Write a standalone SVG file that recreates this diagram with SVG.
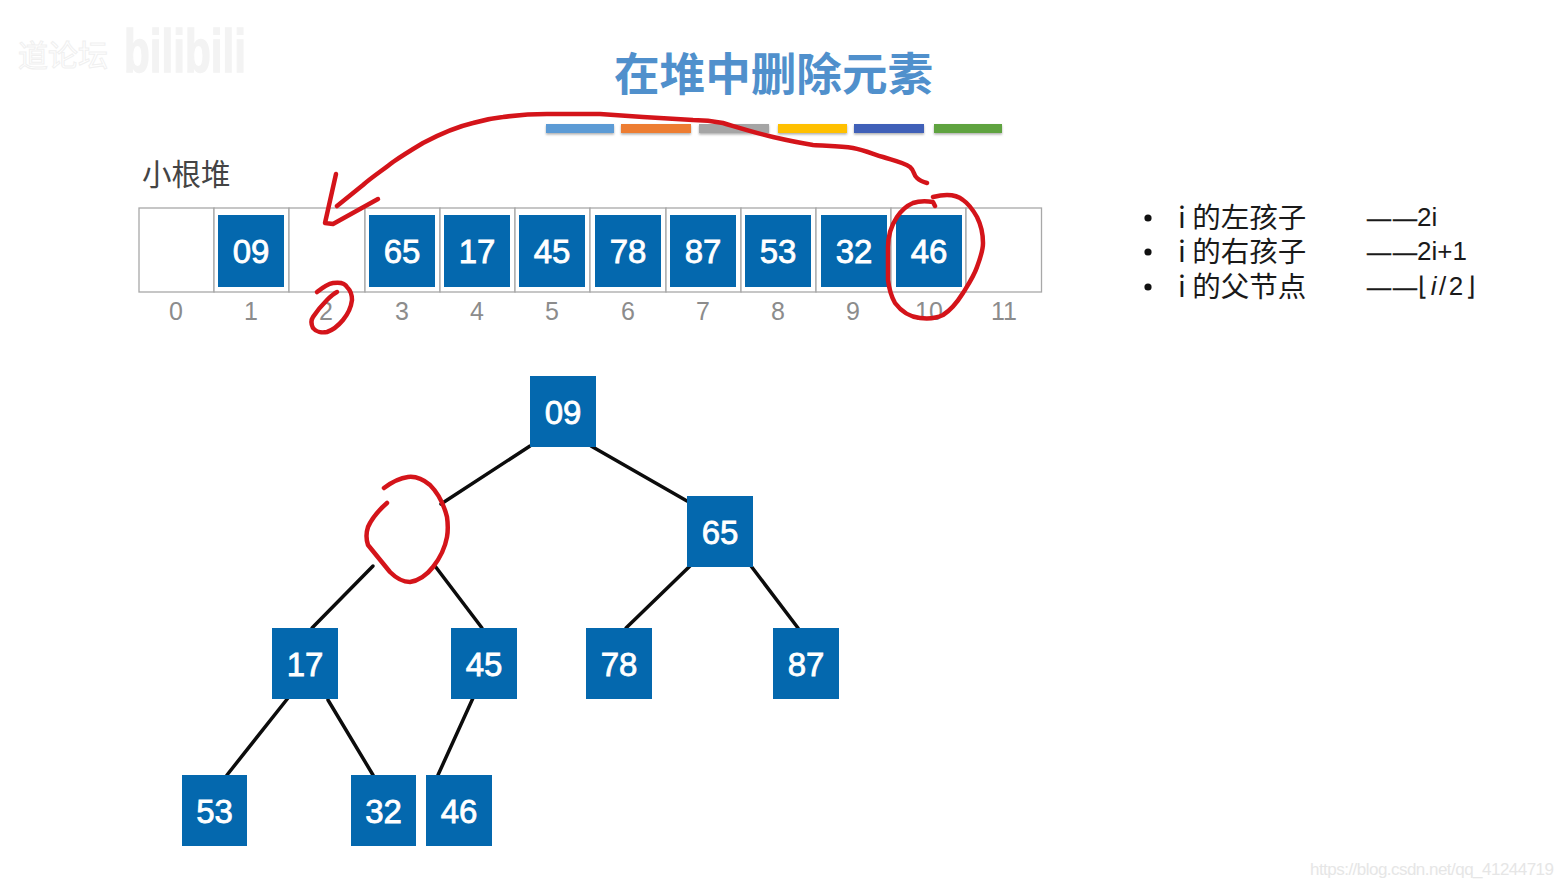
<svg xmlns="http://www.w3.org/2000/svg" width="1563" height="887" viewBox="0 0 1563 887">
<style>
.cell{fill:#fff;stroke:#a8a8a8;stroke-width:1.3}
.box{fill:#0468ae}
.num{font:33px "Liberation Sans",Arial,sans-serif;fill:#fff;stroke:#fff;stroke-width:.8;text-anchor:middle}
.idx{font:25px "Liberation Sans",Arial,sans-serif;fill:#8c8c8c;text-anchor:middle}
.edge{stroke:#0c0c0c;stroke-width:3.5;fill:none;stroke-linecap:round}
.ink{stroke:#d4141a;stroke-width:4.5;fill:none;stroke-linecap:round;stroke-linejoin:round}
.bar{filter:url(#sh)}
.li{font:28.500px "Noto Sans CJK SC","Liberation Sans",sans-serif;fill:#1a1a1a}
.fx{font:26px "Liberation Sans","DejaVu Sans",sans-serif;fill:#1a1a1a}
.dash{font-size:24px;letter-spacing:2px;stroke:#1a1a1a;stroke-width:.5}
</style>
<defs>
<filter id="sh" x="-5%" y="-30%" width="110%" height="170%"><feDropShadow dx="0" dy="1.5" stdDeviation="1" flood-color="#777" flood-opacity=".6"/></filter>
</defs>
<rect width="1563" height="887" fill="#fff"/>
<g id="watermark">
<text x="124" y="72" font-family="Liberation Sans,sans-serif" font-weight="700" font-size="62" fill="#f3f3f3" stroke="#f3f3f3" stroke-width="1.500" textLength="122" lengthAdjust="spacingAndGlyphs">bilibili</text>
<text x="18" y="66" font-family="Noto Sans CJK SC,sans-serif" font-size="30" fill="#fff" stroke="#f0f0f0" stroke-width="1">道论坛</text>
<text x="1310" y="875" font-family="Liberation Sans,sans-serif" font-size="17" fill="#e6e6e6" textLength="244">https://blog.csdn.net/qq_41244719</text>
</g>
<text id="title" x="614" y="91" font-family="Noto Sans CJK SC,sans-serif" font-weight="700" font-size="45.600" fill="#5090cc">在堆中删除元素</text>
<g id="bars">
<rect class="bar" x="546" y="124" width="68" height="9" fill="#5b9bd5"/>
<rect class="bar" x="621" y="124" width="70" height="9" fill="#ed7d31"/>
<rect class="bar" x="699" y="124" width="70" height="9" fill="#a5a5a5"/>
<rect class="bar" x="778" y="124" width="69" height="9" fill="#ffc000"/>
<rect class="bar" x="854" y="124" width="70" height="9" fill="#4060b8"/>
<rect class="bar" x="934" y="124" width="68" height="9" fill="#5fa33f"/>
</g>
<text id="heap-label" x="142" y="185" font-family="Noto Sans CJK SC,sans-serif" font-size="29.500" fill="#444">小根堆</text>
<g id="array">
<rect class="cell" x="139" y="208" width="75" height="84"/>
<rect class="cell" x="214" y="208" width="75" height="84"/>
<rect class="cell" x="289" y="208" width="76" height="84"/>
<rect class="cell" x="365" y="208" width="75" height="84"/>
<rect class="cell" x="440" y="208" width="75" height="84"/>
<rect class="cell" x="515" y="208" width="75" height="84"/>
<rect class="cell" x="590" y="208" width="76" height="84"/>
<rect class="cell" x="666" y="208" width="75" height="84"/>
<rect class="cell" x="741" y="208" width="75" height="84"/>
<rect class="cell" x="816" y="208" width="75" height="84"/>
<rect class="cell" x="891" y="208" width="75" height="84"/>
<rect class="cell" x="966" y="208" width="75.500" height="84"/>
</g>
<g id="array-values">
<g id="a1"><rect class="box" x="218" y="215" width="66" height="72"/><text class="num" x="251" y="263">09</text></g>
<g id="a3"><rect class="box" x="369" y="215" width="66" height="72"/><text class="num" x="402" y="263">65</text></g>
<g id="a4"><rect class="box" x="444" y="215" width="66" height="72"/><text class="num" x="477" y="263">17</text></g>
<g id="a5"><rect class="box" x="519" y="215" width="66" height="72"/><text class="num" x="552" y="263">45</text></g>
<g id="a6"><rect class="box" x="595" y="215" width="66" height="72"/><text class="num" x="628" y="263">78</text></g>
<g id="a7"><rect class="box" x="670" y="215" width="66" height="72"/><text class="num" x="703" y="263">87</text></g>
<g id="a8"><rect class="box" x="745" y="215" width="66" height="72"/><text class="num" x="778" y="263">53</text></g>
<g id="a9"><rect class="box" x="821" y="215" width="66" height="72"/><text class="num" x="854" y="263">32</text></g>
<g id="a10"><rect class="box" x="896" y="215" width="66" height="72"/><text class="num" x="929" y="263">46</text></g>
</g>
<g id="indices">
<text class="idx" x="176" y="320">0</text><text class="idx" x="251" y="320">1</text><text class="idx" x="326" y="320">2</text><text class="idx" x="402" y="320">3</text><text class="idx" x="477" y="320">4</text><text class="idx" x="552" y="320">5</text><text class="idx" x="628" y="320">6</text><text class="idx" x="703" y="320">7</text><text class="idx" x="778" y="320">8</text><text class="idx" x="853" y="320">9</text><text class="idx" x="929" y="320">10</text><text class="idx" x="1004" y="320">11</text>
</g>
<g id="connectors">
<path class="edge" d="M530 446L441 504"/>
<path class="edge" d="M591 446L687 501"/>
<path class="edge" d="M373 566L312 628"/>
<path class="edge" d="M435 566L482 628"/>
<path class="edge" d="M690 566L626 628"/>
<path class="edge" d="M751 566L798 628"/>
<path class="edge" d="M288 698L227 775"/>
<path class="edge" d="M328 700L373 775"/>
<path class="edge" d="M473 698L438 775"/>
</g>
<g id="n09"><rect class="box" x="530" y="376" width="66" height="71"/><text class="num" x="563" y="424">09</text></g>
<g id="n65"><rect class="box" x="687" y="496" width="66" height="71"/><text class="num" x="720" y="544">65</text></g>
<g id="n17"><rect class="box" x="272" y="628" width="66" height="71"/><text class="num" x="305" y="676">17</text></g>
<g id="n45"><rect class="box" x="451" y="628" width="66" height="71"/><text class="num" x="484" y="676">45</text></g>
<g id="n78"><rect class="box" x="586" y="628" width="66" height="71"/><text class="num" x="619" y="676">78</text></g>
<g id="n87"><rect class="box" x="773" y="628" width="66" height="71"/><text class="num" x="806" y="676">87</text></g>
<g id="n53"><rect class="box" x="182" y="775" width="65" height="71"/><text class="num" x="214.500" y="823">53</text></g>
<g id="n32"><rect class="box" x="351" y="775" width="65" height="71"/><text class="num" x="383.500" y="823">32</text></g>
<g id="n46"><rect class="box" x="426" y="775" width="66" height="71"/><text class="num" x="459" y="823">46</text></g>
<g id="notes">
<circle cx="1148" cy="218" r="3.600" fill="#111"/><circle cx="1148" cy="252" r="3.600" fill="#111"/><circle cx="1148" cy="287" r="3.600" fill="#111"/>
<text class="li" x="1178" y="228">i 的左孩子</text>
<text class="li" x="1178" y="262">i 的右孩子</text>
<text class="li" x="1178" y="297">i 的父节点</text>
<text class="fx" x="1367" y="226"><tspan class="dash">——</tspan><tspan x="1417">2i</tspan></text>
<text class="fx" x="1367" y="260"><tspan class="dash">——</tspan><tspan x="1417">2i+1</tspan></text>
<text class="fx" x="1367" y="295"><tspan class="dash">——</tspan><tspan x="1418" letter-spacing="2.500">⌊<tspan font-style="italic">i</tspan>/2⌋</tspan></text>
</g>
<g id="annotations">
<path class="ink" d="M337 206L363 185C372 177 383 170 393 162C403 155 413 149 423 143C440 134 456 127 473 123C483 120 493 118 503 117C518 115 532 114 547 114L600 114C615 115 629 116 643 117C660 118 676 119 693 120C703 120 713 121 723 123C740 128 756 133 773 137C786 140 800 143 813 145C826 146 840 146 853 148C864 150 873 154 883 157C892 160 903 162 910 167C915 171 913 175 917 178C920 181 923 182 927 183"/>
<path class="ink" d="M336 174L325 223L333 224L378 199"/>
<path class="ink" d="M317 292C322 288 327 284 333 283C340 282 345 283 347 287C351 291 352 295 352 300C351 308 348 314 343 320C338 326 333 330 327 332C322 333 316 332 313 328C311 324 311 320 313 317C317 311 322 305 327 300C330 297 333 294 337 292"/>
<path class="ink" d="M935 206L933 202C926 201 919 201 913 203C906 206 901 211 897 217C891 226 888 237 888 247L888 280C889 288 891 296 895 303C901 311 910 317 920 318C929 319 937 318 943 315C951 310 958 301 963 293C968 285 974 276 977 267C980 259 983 251 983 243C983 233 981 225 977 217C973 210 969 204 963 200C958 196 952 195 947 195C942 195 937 196 933 197"/>
<path class="ink" d="M384 488C392 482 400 478 408 477C416 476 424 480 430 485C439 494 444 505 447 517C448 524 448 531 447 537C445 548 440 558 433 567C427 575 418 581 410 582C403 582 396 578 390 572L368 545C366 539 366 533 368 527C372 518 379 510 387 503"/>
</g>
</svg>
